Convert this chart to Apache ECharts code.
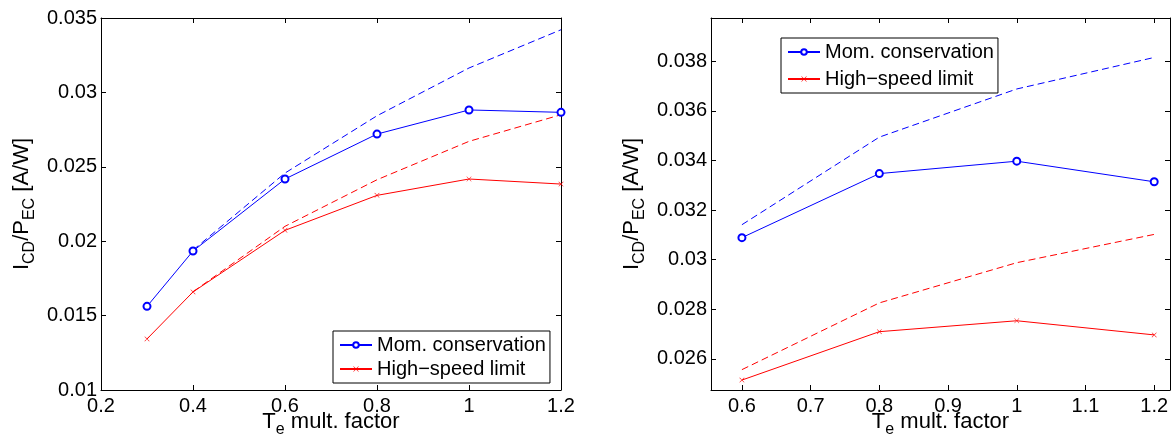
<!DOCTYPE html>
<html>
<head>
<meta charset="utf-8">
<script src="https://cdn.jsdelivr.net/npm/echarts@6/dist/echarts.min.js"></script>
<style>
  html, body { margin: 0; padding: 0; background: #fff; }
  #main { width: 1173px; height: 439px; }
</style>
</head>
<body>
<div id="main"></div>
<script>
// left panel (Te scan from 0.3)
const xLeft = [0.3, 0.4, 0.6, 0.8, 1.0, 1.2]
const momLeft = [0.01562, 0.01934, 0.02418, 0.0272, 0.02882, 0.02866]
const hslLeft = [0.01343, 0.01659, 0.02073, 0.02308, 0.02418, 0.02384]
const xLeftDash = [0.4, 0.6, 0.8, 1.0, 1.2]
const momLeftDash = [0.0194, 0.02458, 0.02843, 0.03164, 0.03421]
const hslLeftDash = [0.0166, 0.0210, 0.02413, 0.02671, 0.0285]

// right panel (Te scan from 0.6)
const xRight = [0.6, 0.8, 1.0, 1.2]
const momRight = [0.03089, 0.03347, 0.03397, 0.03314]
const hslRight = [0.02515, 0.0271, 0.02754, 0.02697]
const momRightDash = [0.03141, 0.03494, 0.03688, 0.03815]
const hslRightDash = [0.02557, 0.02826, 0.02988, 0.03102]

const xTicksRight = [0.6, 0.7, 0.8, 0.9, 1.0, 1.1, 1.2]
const yTicksRight = [0.026, 0.028, 0.030, 0.032, 0.034, 0.036, 0.038]

const FONT = 'Liberation Sans, Arial, Helvetica, sans-serif'
const BLUE = '#0000ff'
const RED = '#ff0000'
// thin "x" marker
const CROSS = 'path://M0,0.7L0.7,0L5,4.3L9.3,0L10,0.7L5.7,5L10,9.3L9.3,10L5,5.7L0.7,10L0,9.3L4.3,5Z'

function pairs (xs, ys) {
  return xs.map((x, i) => [x, ys[i]])
}

const xName = '{m|T}{s|e}{m| mult. factor}'
const yName = '{m|I}{s|CD}{m|/P}{s|EC}{m| [A/W]}'
const nameRich = {
  m: { fontSize: 22, fontFamily: FONT, color: '#000' },
  s: { fontSize: 16, fontFamily: FONT, color: '#000', padding: [17, 0, 0, 0] }
}

function numLabel (v) {
  return String(+v.toFixed(4))
}

function bottomAxis (grid, min, max, interval, custom) {
  let ax = {
    type: 'value', gridIndex: grid, position: 'bottom', min: min, max: max,
    name: xName, nameLocation: 'middle', nameGap: 15, nameMoveOverlap: false,
    nameTextStyle: { rich: nameRich },
    axisLine: { show: true, onZero: false, lineStyle: { color: '#000', width: 1 } },
    axisTick: { show: true, inside: true, length: 5, lineStyle: { color: '#000' } },
    axisLabel: { color: '#000', fontSize: 20, fontFamily: FONT, margin: 6, formatter: numLabel },
    splitLine: { show: false }
  }
  if (custom) {
    ax.axisTick.customValues = custom
    ax.axisLabel.customValues = custom
  } else {
    ax.interval = interval
  }
  return ax
}

function topAxis (grid, min, max, interval, custom) {
  let ax = {
    type: 'value', gridIndex: grid, position: 'top', min: min, max: max,
    axisLine: { show: true, onZero: false, lineStyle: { color: '#000', width: 1 } },
    axisTick: { show: true, inside: true, length: 5, lineStyle: { color: '#000' } },
    axisLabel: { show: false },
    splitLine: { show: false }
  }
  if (custom) {
    ax.axisTick.customValues = custom
  } else {
    ax.interval = interval
  }
  return ax
}

function leftAxis (grid, min, max, interval, custom) {
  let ax = {
    type: 'value', gridIndex: grid, position: 'left', min: min, max: max,
    name: yName, nameLocation: 'middle', nameRotate: 90, nameGap: 63,
    nameTextStyle: { rich: nameRich },
    axisLine: { show: true, onZero: false, lineStyle: { color: '#000', width: 1 } },
    axisTick: { show: true, inside: true, length: 5, lineStyle: { color: '#000' } },
    axisLabel: { color: '#000', fontSize: 20, fontFamily: FONT, margin: 4, formatter: numLabel },
    splitLine: { show: false }
  }
  if (custom) {
    ax.axisTick.customValues = custom
    ax.axisLabel.customValues = custom
  } else {
    ax.interval = interval
  }
  return ax
}

function rightAxis (grid, min, max, interval, custom) {
  let ax = {
    type: 'value', gridIndex: grid, position: 'right', min: min, max: max,
    axisLine: { show: true, onZero: false, lineStyle: { color: '#000', width: 1 } },
    axisTick: { show: true, inside: true, length: 5, lineStyle: { color: '#000' } },
    axisLabel: { show: false },
    splitLine: { show: false }
  }
  if (custom) {
    ax.axisTick.customValues = custom
  } else {
    ax.interval = interval
  }
  return ax
}

function solid (name, xi, yi, data, color, symbol, size, bw) {
  return {
    name: name, type: 'line', xAxisIndex: xi, yAxisIndex: yi, data: data,
    symbol: symbol, symbolSize: size, showSymbol: true,
    lineStyle: { color: color, width: 1 },
    itemStyle: { color: color, borderColor: color, borderWidth: bw },
    z: 3
  }
}

function dashed (name, xi, yi, data, color) {
  return {
    name: name, type: 'line', xAxisIndex: xi, yAxisIndex: yi, data: data,
    symbol: 'none',
    lineStyle: { color: color, width: 1, type: [7, 4] },
    z: 2
  }
}

function legendBox (left, top, gap) {
  return {
    orient: 'vertical', left: left, top: top,
    data: ['Mom. conservation', 'High\u2212speed limit'],
    backgroundColor: '#fff', borderColor: '#000', borderWidth: 1,
    padding: [4, 4, 4, 6], itemGap: gap, itemWidth: 32, itemHeight: 7,
    textStyle: { color: '#000', fontSize: 20, fontFamily: FONT },
    selectedMode: false
  }
}

const chart = echarts.init(document.getElementById('main'))
const option = {
  animation: false,
  backgroundColor: '#fff',
  grid: [
    { left: 101, top: 18, width: 460, height: 372, outerBoundsMode: 'none', containLabel: false },
    { left: 711, top: 18, width: 459, height: 372, outerBoundsMode: 'none', containLabel: false }
  ],
  legend: [legendBox(333, 331, 4), legendBox(781, 38, 7)],
  xAxis: [
    bottomAxis(0, 0.2, 1.2, 0.2),
    topAxis(0, 0.2, 1.2, 0.2),
    bottomAxis(1, 0.555, 1.223, null, xTicksRight),
    topAxis(1, 0.555, 1.223, null, xTicksRight)
  ],
  yAxis: [
    leftAxis(0, 0.01, 0.035, 0.005),
    rightAxis(0, 0.01, 0.035, 0.005),
    leftAxis(1, 0.02475, 0.03974, null, yTicksRight),
    rightAxis(1, 0.02475, 0.03974, null, yTicksRight)
  ],
  series: [
    dashed('mom ref L', 0, 0, pairs(xLeftDash, momLeftDash), BLUE),
    dashed('hsl ref L', 0, 0, pairs(xLeftDash, hslLeftDash), RED),
    solid('Mom. conservation', 0, 0, pairs(xLeft, momLeft), BLUE, 'emptyCircle', 7, 0.8),
    solid('High\u2212speed limit', 0, 0, pairs(xLeft, hslLeft), RED, CROSS, 5, 0),
    dashed('mom ref R', 2, 2, pairs(xRight, momRightDash), BLUE),
    dashed('hsl ref R', 2, 2, pairs(xRight, hslRightDash), RED),
    solid('Mom. conservation', 2, 2, pairs(xRight, momRight), BLUE, 'emptyCircle', 7, 0.8),
    solid('High\u2212speed limit', 2, 2, pairs(xRight, hslRight), RED, CROSS, 5, 0)
  ]
}
chart.setOption(option)
</script>
</body>
</html>
